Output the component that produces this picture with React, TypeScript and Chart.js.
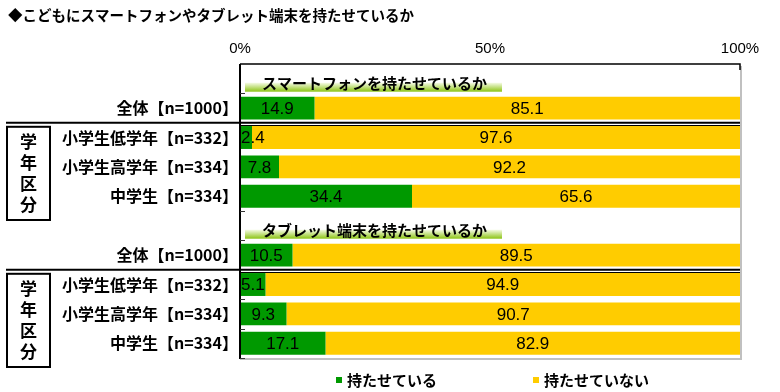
import React, { useEffect, useRef } from 'react';
import { Chart, registerables } from 'chart.js';

Chart.register(...registerables);

const chartTitle = '◆こどもにスマートフォンやタブレット端末を持たせているか';
const categories = [
  '',
  '全体【n=1000】',
  '小学生低学年【n=332】',
  '小学生高学年【n=334】',
  '中学生【n=334】',
  '',
  '全体【n=1000】',
  '小学生低学年【n=332】',
  '小学生高学年【n=334】',
  '中学生【n=334】',
];
const sectionTitles = ['スマートフォンを持たせているか', 'タブレット端末を持たせているか'];
const haveValues = [null, 14.9, 2.4, 7.8, 34.4, null, 10.5, 5.1, 9.3, 17.1];
const notValues = [null, 85.1, 97.6, 92.2, 65.6, null, 89.5, 94.9, 90.7, 82.9];
const seriesNames = ['持たせている', '持たせていない'];
const seriesColors = ['#009900', '#FFCC00'];
const xTickValues = [0, 50, 100];
const groupLabel = '学年区分';
const groupRows = [
  [2, 4],
  [7, 9],
];
const tickRows = [1, 5, 6, 8, 9, 10];

const JP = '"Noto Sans CJK JP", "Noto Sans", sans-serif';
const LAT = '"Liberation Sans", Arial, sans-serif';

const overlayPlugin = {
  id: 'overlay',
  afterDatasetsDraw(chart: any) {
    const ctx = chart.ctx as CanvasRenderingContext2D;
    const { left, right, top, bottom } = chart.chartArea;
    const ys = chart.scales.y;
    const n = categories.length;
    const rowH = (bottom - top) / n;
    const boundary = (k: number) => top + k * rowH;

    ctx.save();
    // data labels
    ctx.font = `17px ${LAT}`;
    ctx.fillStyle = '#000';
    ctx.textBaseline = 'middle';
    ctx.textAlign = 'center';
    chart.data.datasets.forEach((ds: any, di: number) => {
      const meta = chart.getDatasetMeta(di);
      meta.data.forEach((el: any, i: number) => {
        const v = ds.data[i];
        if (v === null || v === undefined) return;
        const txt = v.toFixed(1);
        const w = ctx.measureText(txt).width;
        let cx = (el.x + el.base) / 2;
        if (cx < left + w / 2 + 1) cx = left + w / 2 + 1;
        ctx.fillText(txt, cx, el.y + 1);
      });
    });

    // section headers
    let s = 0;
    categories.forEach((c, i) => {
      if (c !== '') return;
      const cy = ys.getPixelForValue(i);
      const t = sectionTitles[s++];
      ctx.font = `bold 15px ${JP}`;
      const tw = ctx.measureText(t).width;
      const bx0 = left + 5;
      const bx1 = left + 22 + tw + 15;
      const by0 = cy + 4;
      const by1 = cy + 13;
      const g = ctx.createLinearGradient(0, by0, 0, by1);
      g.addColorStop(0, '#f6fbe6');
      g.addColorStop(1, '#8cc414');
      ctx.fillStyle = g;
      ctx.fillRect(bx0, by0, bx1 - bx0, by1 - by0);
      ctx.fillStyle = '#000';
      ctx.textAlign = 'left';
      ctx.fillText(t, left + 22, cy + 5);
    });

    // borders
    ctx.strokeStyle = '#c0c0c0';
    ctx.lineWidth = 2;
    ctx.beginPath();
    ctx.moveTo(right + 1, top + 2);
    ctx.lineTo(right + 1, bottom + 1);
    ctx.lineTo(left, bottom + 1);
    ctx.stroke();
    ctx.strokeStyle = '#000';
    ctx.lineWidth = 1.5;
    ctx.beginPath();
    ctx.moveTo(left, top);
    ctx.lineTo(right, top);
    ctx.lineTo(right, top + 6);
    ctx.stroke();
    ctx.lineWidth = 2;
    ctx.beginPath();
    ctx.moveTo(left, top);
    ctx.lineTo(left, bottom + 1);
    ctx.stroke();

    // inner ticks
    ctx.lineWidth = 1;
    ctx.strokeStyle = '#333';
    tickRows.forEach((k) => {
      const yy = Math.round(boundary(k)) + 0.5;
      ctx.beginPath();
      ctx.moveTo(left, yy);
      ctx.lineTo(left + 5, yy);
      ctx.stroke();
    });

    // group separators and boxes
    groupRows.forEach(([a, b]) => {
      const yb = boundary(a);
      ctx.strokeStyle = '#000';
      ctx.lineWidth = 2;
      ctx.beginPath();
      ctx.moveTo(6, yb);
      ctx.lineTo(right, yb);
      ctx.stroke();
      ctx.lineWidth = 1;
      ctx.beginPath();
      ctx.moveTo(left, Math.round(yb + 2.5) + 0.5);
      ctx.lineTo(right, Math.round(yb + 2.5) + 0.5);
      ctx.stroke();

      const bTop = yb + 4;
      const bBot = boundary(b + 1) + 9;
      ctx.lineWidth = 2;
      ctx.strokeRect(7, bTop, 43, bBot - bTop);
      ctx.font = `bold 17px ${JP}`;
      ctx.fillStyle = '#000';
      ctx.textAlign = 'center';
      ctx.textBaseline = 'middle';
      const chars = Array.from(groupLabel);
      const mid = (bTop + bBot) / 2;
      const step = 21;
      chars.forEach((ch, i) => {
        ctx.fillText(ch, 28.5, mid + (i - (chars.length - 1) / 2) * step);
      });
    });

    // title
    ctx.font = `bold 14.5px ${JP}`;
    ctx.textAlign = 'left';
    ctx.textBaseline = 'middle';
    ctx.fillText(chartTitle, 8, 15);

    // legend
    ctx.font = `bold 15px ${JP}`;
    const legendX = [336, 533];
    seriesNames.forEach((name, i) => {
      ctx.fillStyle = seriesColors[i];
      ctx.fillRect(legendX[i], 377, 6, 6);
      ctx.fillStyle = '#000';
      ctx.fillText(name, legendX[i] + 11, 380);
    });
    ctx.restore();
  },
};

export default function App() {
  const ref = useRef<HTMLCanvasElement | null>(null);
  useEffect(() => {
    if (!ref.current) return;
    const chart = new Chart(ref.current, {
      type: 'bar',
      data: {
        labels: categories,
        datasets: [
          {
            label: seriesNames[0],
            data: haveValues as any,
            backgroundColor: seriesColors[0],
            borderWidth: 0,
          },
          {
            label: seriesNames[1],
            data: notValues as any,
            backgroundColor: seriesColors[1],
            borderWidth: 0,
          },
        ],
      },
      options: {
        indexAxis: 'y',
        responsive: false,
        animation: false,
        layout: { padding: { top: 0, left: 0, right: 40, bottom: 34 } },
        datasets: { bar: { categoryPercentage: 0.78, barPercentage: 1 } } as any,
        plugins: {
          legend: { display: false },
          title: { display: false },
          tooltip: { enabled: false },
        },
        scales: {
          x: {
            position: 'top',
            stacked: true,
            min: 0,
            max: 100,
            afterBuildTicks: (scale: any) => {
              scale.ticks = xTickValues.map((v) => ({ value: v }));
            },
            afterFit: (scale: any) => {
              scale.height = 64;
            },
            grid: { display: false, drawTicks: false },
            border: { display: false },
            ticks: {
              padding: 6,
              color: '#000',
              font: { family: LAT, size: 15 },
              callback: (v: any) => `${v}%`,
              maxRotation: 0,
            },
          },
          y: {
            stacked: true,
            afterFit: (scale: any) => {
              scale.width = 240;
            },
            grid: { display: false, drawTicks: false },
            border: { display: false },
            ticks: {
              padding: 2,
              color: '#000',
              font: { family: JP, size: 16, weight: 'bold' },
              autoSkip: false,
            },
          },
        },
      },
      plugins: [overlayPlugin],
    });
    return () => chart.destroy();
  }, []);
  return (
    <div style={{ position: 'fixed', left: 0, top: 0, width: 780, height: 392, background: '#fff' }}>
      <canvas ref={ref} width={780} height={392} style={{ width: 780, height: 392 }} />
    </div>
  );
}
